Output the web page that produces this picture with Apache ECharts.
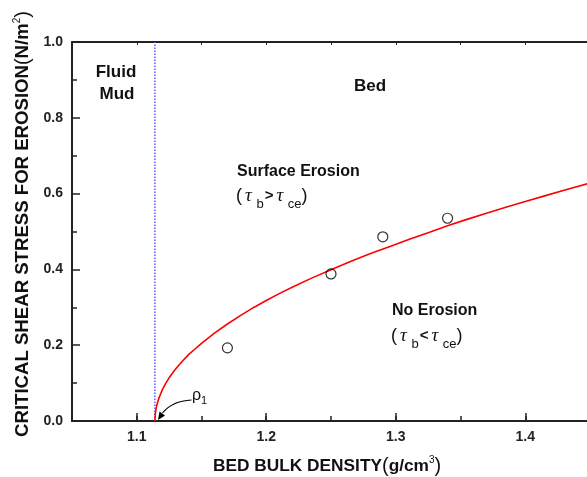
<!DOCTYPE html>
<html><head><meta charset="utf-8">
<script src="https://cdn.jsdelivr.net/npm/echarts@6/dist/echarts.min.js"></script>
<style>html,body{margin:0;padding:0;background:#fff}#c{width:587px;height:477px}</style>
</head><body><div id="c"></div>
<script>
// Fitted critical shear stress curve
const curveDensity = [1.114,1.1143,1.1147,1.115,1.116,1.117,1.118,1.12,1.1225,1.125,1.1275,1.13,1.135,1.14,1.145,1.15,1.16,1.17,1.18,1.19,1.2,1.21,1.22,1.235,1.25,1.265,1.28,1.295,1.31,1.325,1.34,1.355,1.37,1.385,1.4,1.415,1.43,1.45];
const curveStress  = [0,0.019,0.028,0.034,0.048,0.059,0.068,0.084,0.100,0.114,0.126,0.137,0.157,0.175,0.190,0.205,0.232,0.256,0.278,0.299,0.318,0.336,0.353,0.377,0.399,0.421,0.441,0.460,0.479,0.497,0.515,0.532,0.548,0.564,0.579,0.594,0.609,0.628];
// Observed points
const obsDensity = [1.17,1.25,1.29,1.34];
const obsStress  = [0.193,0.388,0.486,0.535];
// Fluid mud / bed boundary density rho1
const rho1 = 1.114;
const xRange = [1.05, 1.45];
const yRange = [0, 1.0];

const AX = '#222';
const FONT = 'Liberation Sans, Arial, sans-serif';
const is01 = v => Math.abs(v * 10 - Math.round(v * 10)) < 1e-6;

const chart = echarts.init(document.getElementById('c'), null, {renderer: 'canvas'});
chart.setOption({
  animation: false,
  backgroundColor: '#fff',
  grid: [
    {left: 72, right: -3, top: 42, bottom: 56, containLabel: false, outerBoundsMode: 'none'},
    {left: 72 + 0.05 / 0.4 * 518, right: -3, top: 42, bottom: 56, containLabel: false, outerBoundsMode: 'none'}
  ],
  xAxis: [
    {gridIndex: 0, type: 'value', min: xRange[0], max: xRange[1], interval: 0.05, position: 'bottom',
     axisLine: {onZero: false, lineStyle: {color: AX, width: 2}},
     axisTick: {inside: true, length: 5, lineStyle: {color: AX, width: 1.5}},
     axisLabel: {show: false}, splitLine: {show: false}},
    {gridIndex: 0, type: 'value', min: xRange[0], max: xRange[1], interval: 0.05, position: 'top',
     axisLine: {onZero: false, lineStyle: {color: AX, width: 2}},
     axisTick: {inside: true, length: 3, lineStyle: {color: AX, width: 1}},
     axisLabel: {show: false}, splitLine: {show: false}},
    {gridIndex: 1, type: 'value', min: 1.1, max: xRange[1], interval: 0.1, position: 'bottom',
     axisLine: {show: false, onZero: false},
     axisTick: {inside: true, length: 8, lineStyle: {color: AX, width: 1.5}},
     axisLabel: {margin: 9, color: AX, fontFamily: FONT, fontWeight: 'bold', fontSize: 14,
                 formatter: v => is01(v) ? v.toFixed(1) : ''},
     splitLine: {show: false}}
  ],
  yAxis: [
    {gridIndex: 0, type: 'value', min: yRange[0], max: yRange[1], interval: 0.2,
     axisLine: {onZero: false, lineStyle: {color: AX, width: 2}},
     axisTick: {inside: true, length: 8, lineStyle: {color: AX, width: 1.5}},
     minorTick: {show: true, splitNumber: 2, length: 5, lineStyle: {color: AX, width: 1.5}},
     axisLabel: {margin: 9, color: AX, fontFamily: FONT, fontWeight: 'bold', fontSize: 14,
                 formatter: v => v.toFixed(1)},
     splitLine: {show: false}, minorSplitLine: {show: false}},
    {gridIndex: 1, type: 'value', min: yRange[0], max: yRange[1], show: false}
  ],
  series: [
    {type: 'line', xAxisIndex: 0, yAxisIndex: 0, symbol: 'none', z: 2,
     data: [[rho1, yRange[0]], [rho1, yRange[1]]],
     lineStyle: {color: '#5a5aff', width: 1.5, type: [1.5, 1.5]}},
    {type: 'line', xAxisIndex: 0, yAxisIndex: 0, symbol: 'none', z: 3,
     data: curveDensity.map((d, i) => [d, curveStress[i]]),
     lineStyle: {color: '#ff0000', width: 1.6, join: 'round'}},
    {type: 'scatter', xAxisIndex: 0, yAxisIndex: 0, symbol: 'circle', symbolSize: 10, z: 4,
     data: obsDensity.map((d, i) => [d, obsStress[i]]),
     itemStyle: {color: 'rgba(255,255,255,0)', borderColor: '#000', borderWidth: 1.2}}
  ],
  graphic: [
    {type: 'text', x: 116, y: 72, style: {text: 'Fluid', font: 'bold 17px ' + FONT, fill: '#111', textAlign: 'center', textVerticalAlign: 'middle', align: 'center', verticalAlign: 'middle'}},
    {type: 'text', x: 117, y: 94, style: {text: 'Mud', font: 'bold 17px ' + FONT, fill: '#111', textAlign: 'center', textVerticalAlign: 'middle', align: 'center', verticalAlign: 'middle'}},
    {type: 'text', x: 370, y: 86, style: {text: 'Bed', font: 'bold 17px ' + FONT, fill: '#111', textAlign: 'center', textVerticalAlign: 'middle', align: 'center', verticalAlign: 'middle'}},
    {type: 'text', x: 237, y: 171.5, style: {text: 'Surface Erosion', font: 'bold 16px ' + FONT, fill: '#111', textAlign: 'left', textVerticalAlign: 'middle', align: 'left', verticalAlign: 'middle'}},
    {type: 'text', x: 392, y: 311, style: {text: 'No Erosion', font: 'bold 16px ' + FONT, fill: '#111', textAlign: 'left', textVerticalAlign: 'middle', align: 'left', verticalAlign: 'middle'}},
    {type: 'text', x: 236, y: 196, style: {
      text: '{p|(}{t|τ}{s| b}{g|>}{t|τ}{s| ce}{p|)}',
      textAlign: 'left', textVerticalAlign: 'middle', align: 'left', verticalAlign: 'middle',
      rich: {
        p: {fontFamily: FONT, fontSize: 18, fill: '#111', lineHeight: 30, verticalAlign: 'middle', padding: [0, 3, 0, 0]},
        t: {fontFamily: 'Liberation Serif, serif', fontStyle: 'italic', fontSize: 19, fill: '#111', lineHeight: 30, verticalAlign: 'middle', padding: [0, 1, 0, 0]},
        s: {fontFamily: FONT, fontSize: 13, fill: '#111', lineHeight: 8, verticalAlign: 'bottom'},
        g: {fontFamily: FONT, fontWeight: 'bold', fontSize: 15, fill: '#111', lineHeight: 30, verticalAlign: 'middle', padding: [0, 3, 0, 1]}
      }}},
    {type: 'text', x: 391, y: 336, style: {
      text: '{p|(}{t|τ}{s| b}{g|<}{t|τ}{s| ce}{p|)}',
      textAlign: 'left', textVerticalAlign: 'middle', align: 'left', verticalAlign: 'middle',
      rich: {
        p: {fontFamily: FONT, fontSize: 18, fill: '#111', lineHeight: 30, verticalAlign: 'middle', padding: [0, 3, 0, 0]},
        t: {fontFamily: 'Liberation Serif, serif', fontStyle: 'italic', fontSize: 19, fill: '#111', lineHeight: 30, verticalAlign: 'middle', padding: [0, 1, 0, 0]},
        s: {fontFamily: FONT, fontSize: 13, fill: '#111', lineHeight: 8, verticalAlign: 'bottom'},
        g: {fontFamily: FONT, fontWeight: 'bold', fontSize: 15, fill: '#111', lineHeight: 30, verticalAlign: 'middle', padding: [0, 3, 0, 1]}
      }}},
    {type: 'text', x: 192, y: 396, style: {
      text: '{r|ρ}{s|1}',
      textAlign: 'left', textVerticalAlign: 'middle', align: 'left', verticalAlign: 'middle',
      rich: {
        r: {fontFamily: FONT, fontSize: 16, fill: '#111', lineHeight: 20, verticalAlign: 'middle'},
        s: {fontFamily: FONT, fontSize: 11, fill: '#111', lineHeight: 8, verticalAlign: 'bottom'}
      }}},
    {type: 'bezierCurve', shape: {x1: 191.5, y1: 400, cpx1: 172, cpy1: 401, x2: 162.5, y2: 413}, style: {stroke: '#000', lineWidth: 1.2, fill: null}},
    {type: 'polygon', shape: {points: [[158, 420], [165, 415.5], [159.5, 411.5]]}, style: {fill: '#000'}},
    {type: 'text', x: 23, y: 224, rotation: Math.PI / 2, style: {
      text: '{b|CRITICAL SHEAR STRESS FOR EROSION}{p|(}{b|N/m}{u|2}{p|)}',
      textAlign: 'center', textVerticalAlign: 'middle', align: 'center', verticalAlign: 'middle',
      rich: {
        b: {fontFamily: FONT, fontWeight: 'bold', fontSize: 18.6, fill: '#111', lineHeight: 22, verticalAlign: 'middle'},
        p: {fontFamily: FONT, fontSize: 20, fill: '#111', lineHeight: 22, verticalAlign: 'middle'},
        u: {fontFamily: FONT, fontSize: 10, fill: '#111', lineHeight: 10, verticalAlign: 'top'}
      }}},
    {type: 'text', x: 213, y: 466, style: {
      text: '{b|BED BULK DENSITY}{p|(}{b|g/cm}{u|3}{p|)}',
      textAlign: 'left', textVerticalAlign: 'middle', align: 'left', verticalAlign: 'middle',
      rich: {
        b: {fontFamily: FONT, fontWeight: 'bold', fontSize: 17.3, fill: '#111', lineHeight: 22, verticalAlign: 'middle'},
        p: {fontFamily: FONT, fontSize: 20, fill: '#111', lineHeight: 22, verticalAlign: 'middle'},
        u: {fontFamily: FONT, fontSize: 10, fill: '#111', lineHeight: 10, verticalAlign: 'top'}
      }}}
  ]
});
</script></body></html>
